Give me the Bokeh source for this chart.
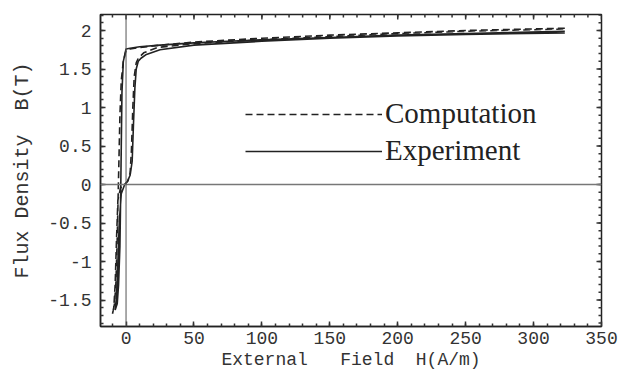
import math
from bokeh.plotting import figure
from bokeh.models import Span, FixedTicker, Legend, LegendItem, Range1d
from bokeh.embed import file_html
from bokeh.resources import INLINE

# ---- data ----
x_ticks = [0, 50, 100, 150, 200, 250, 300, 350]
x_minor = [-10] + list(range(10, 350, 10))
y_ticks = [-1.5, -1, -0.5, 0, 0.5, 1, 1.5, 2]
y_tick_labels = ["-1.5", "-1", "-0.5", "0", "0.5", "1", "1.5", "2"]
y_minor = [round(-1.8 + 0.1 * i, 1) for i in range(41)]

X_MIN, X_MAX = -18.8, 350
Y_MIN, Y_MAX = -1.844, 2.208

# Experiment loop: descending branch then ascending branch
exp_desc_H = [323, 250, 200, 150, 100, 50, 25, 10, 3, 0, -2, -3, -3.5, -4, -4.5, -5.5, -6.5, -8]
exp_desc_B = [1.99, 1.96, 1.94, 1.91, 1.88, 1.84, 1.81, 1.79, 1.77, 1.76, 1.6, 1.2, 0.5, -0.2, -0.8, -1.3, -1.55, -1.63]
exp_asc_H = [-8, -7, -6, -5, -3.5, -1, 1, 3, 4.5, 5.5, 6.5, 7.5, 9, 11, 15, 25, 50, 100, 150, 200, 250, 323]
exp_asc_B = [-1.63, -1.45, -1.0, -0.5, -0.12, 0.0, 0.04, 0.12, 0.3, 0.8, 1.25, 1.5, 1.6, 1.64, 1.69, 1.75, 1.81, 1.86, 1.90, 1.93, 1.95, 1.97]

# Computation loop
comp_desc_H = [323, 250, 200, 150, 100, 50, 25, 10, 3, 0, -2, -3.5, -4.5, -5.5, -6.5, -7.5, -8.5, -10]
comp_desc_B = [2.03, 2.00, 1.97, 1.94, 1.90, 1.85, 1.81, 1.78, 1.76, 1.74, 1.6, 1.35, 0.9, 0.1, -0.7, -1.3, -1.55, -1.68]
comp_asc_H = [-10, -9, -8, -7, -6, -4, -1, 1.5, 3, 4, 5, 6, 7.5, 9, 13, 23, 50, 100, 150, 200, 250, 323]
comp_asc_B = [-1.68, -1.6, -1.3, -0.7, -0.2, -0.04, 0.0, 0.05, 0.15, 0.45, 1.0, 1.4, 1.58, 1.64, 1.71, 1.78, 1.83, 1.88, 1.92, 1.96, 1.99, 2.02]

MONO = "Liberation Mono"
SERIF = "Liberation Serif"
TICK = "#333333"

p = figure(width=619, height=376,
           min_border_left=100, min_border_right=18, min_border_top=14, min_border_bottom=50,
           x_range=Range1d(X_MIN, X_MAX), y_range=Range1d(Y_MIN, Y_MAX),
           output_backend="svg", toolbar_location=None,
           x_axis_label="External\u00a0\u00a0\u00a0Field\u00a0\u00a0H(A/m)",
           y_axis_label="Flux Density\u00a0\u00a0B(T)")
p.grid.visible = False
p.outline_line_color = "#222222"
p.outline_line_width = 1.5
p.background_fill_color = "white"
p.border_fill_color = "white"

# zero lines
p.add_layout(Span(location=0, dimension="width", line_color="#777777", line_width=1.5))
p.add_layout(Span(location=0, dimension="height", line_color="#555555", line_width=1))

r_comp = p.line(comp_desc_H + comp_asc_H, comp_desc_B + comp_asc_B,
                line_color="#222222", line_width=1.6, line_dash="7 4")
r_exp = p.line(exp_desc_H + exp_asc_H, exp_desc_B + exp_asc_B,
               line_color="#222222", line_width=1.6)

# ticks on the top and right frame edges (dash markers centred on the edge, clipped to the frame)
p.scatter(x=x_ticks, y=[Y_MAX] * len(x_ticks), marker="dash", angle=math.pi / 2,
          size=10, line_color=TICK, line_width=1.5)
p.scatter(x=x_minor, y=[Y_MAX] * len(x_minor), marker="dash", angle=math.pi / 2,
          size=6, line_color=TICK, line_width=1.5)
p.scatter(x=[X_MAX] * len(y_ticks), y=y_ticks, marker="dash",
          size=10, line_color=TICK, line_width=1.5)
p.scatter(x=[X_MAX] * len(y_minor), y=y_minor, marker="dash",
          size=6, line_color=TICK, line_width=1.5)

def style_axis(ax, ticks, minor):
    ax.ticker = FixedTicker(ticks=ticks, minor_ticks=minor)
    ax.major_tick_in = 5
    ax.major_tick_out = 0
    ax.minor_tick_in = 3
    ax.minor_tick_out = 0
    ax.major_tick_line_color = TICK
    ax.minor_tick_line_color = TICK
    ax.major_tick_line_width = 1.5
    ax.minor_tick_line_width = 1.5
    ax.axis_line_color = "#222222"
    ax.axis_line_width = 1.5
    ax.major_label_text_font = MONO
    ax.major_label_text_font_size = "18px"
    ax.major_label_text_color = TICK
    ax.axis_label_text_font = MONO
    ax.axis_label_text_font_size = "18px"
    ax.axis_label_text_font_style = "normal"
    ax.axis_label_text_color = TICK

xa = p.xaxis[0]
ya = p.yaxis[0]
style_axis(xa, x_ticks, x_minor)
style_axis(ya, y_ticks, y_minor)
xa.major_label_standoff = 5
xa.axis_label_standoff = 3
ya.major_label_standoff = 9
ya.axis_label_standoff = 11
ya.axis_label_text_font_size = "20px"
ya.major_label_overrides = {t: s for t, s in zip(y_ticks, y_tick_labels)}

legend = Legend(items=[LegendItem(label="Computation", renderers=[r_comp]),
                       LegendItem(label="Experiment", renderers=[r_exp])],
                location=(145, 159), orientation="vertical",
                glyph_width=137, glyph_height=32, label_height=32,
                label_standoff=3, spacing=4, padding=0, margin=0,
                border_line_color=None, background_fill_alpha=0,
                label_text_font=SERIF, label_text_font_size="29px",
                label_text_color="#222222")
p.add_layout(legend, "center")

open("out.html", "w").write(file_html(p, INLINE))
